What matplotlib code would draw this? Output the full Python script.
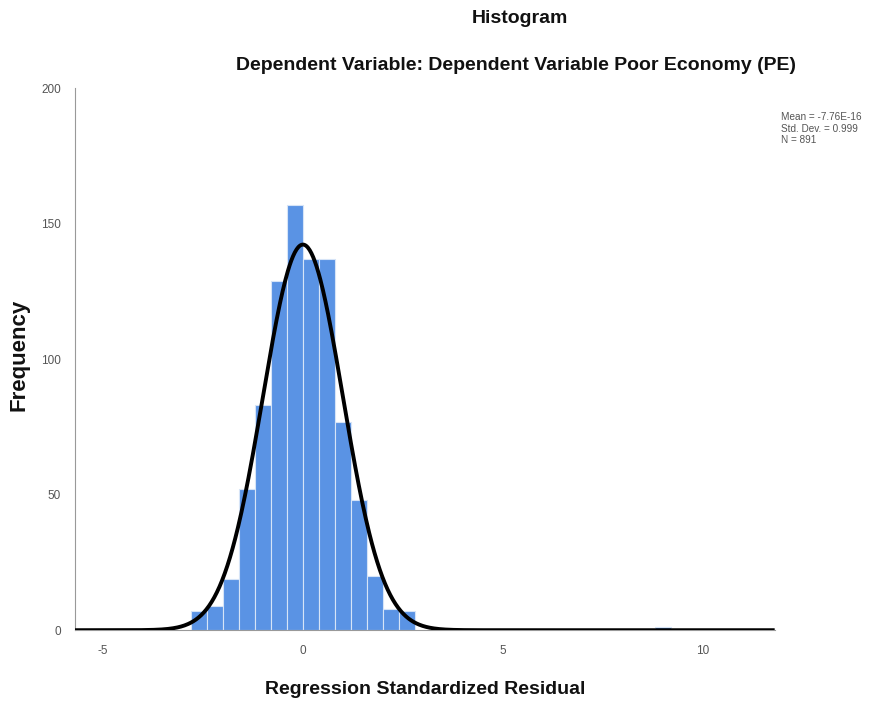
import matplotlib.pyplot as plt
import numpy as np

plt.rcParams['font.family'] = ['Liberation Sans', 'DejaVu Sans']
plt.rcParams['axes.unicode_minus'] = False

# residual histogram (bin width 0.4)
bin_edges = [-2.8, -2.4, -2.0, -1.6, -1.2, -0.8, -0.4, 0.0, 0.4, 0.8, 1.2, 1.6, 2.0, 2.4, 2.8]
counts = [7, 9, 19, 52, 83, 129, 157, 137, 137, 77, 48, 20, 8, 7]
outlier_edges = [8.8, 9.2]
outlier_counts = [1]

mean = -7.76e-16
std = 0.999
n = 891
bin_width = 0.4

fig = plt.figure(figsize=(8.89, 7.01), dpi=100)
ax = fig.add_axes([0.0844, 0.101, 0.787, 0.773])

ax.bar(bin_edges[:-1], counts, width=np.diff(bin_edges), align='edge',
       color='#5a93e4', edgecolor='#d6e4f7', linewidth=0.8, zorder=2)
ax.bar(outlier_edges[:-1], outlier_counts, width=np.diff(outlier_edges), align='edge',
       color='#5a93e4', edgecolor='#d6e4f7', linewidth=0.8, zorder=2)

# normal curve scaled to counts
xs = np.linspace(-5.7, 11.8, 800)
ys = n * bin_width / (std * np.sqrt(2 * np.pi)) * np.exp(-0.5 * ((xs - mean) / std) ** 2)
ax.plot(xs, ys, color='black', linewidth=2.8, zorder=3, solid_capstyle='butt')

ax.set_xlim(-5.7, 11.8)
ax.set_ylim(0, 200)
ax.set_xticks([-5, 0, 5, 10])
ax.set_yticks([0, 50, 100, 150, 200])
ax.tick_params(length=0, labelsize=8.5, colors='#555555', pad=10)
ax.tick_params(axis='x', pad=11)

for s in ['top', 'right']:
    ax.spines[s].set_visible(False)
ax.spines['left'].set_color('#999999')
ax.spines['bottom'].set_color('#999999')
ax.spines['left'].set_linewidth(0.8)

fig.text(0.021, 0.494, 'Frequency', rotation=90, ha='center', va='center',
         fontsize=16, fontweight='bold', color='#111111')
fig.text(0.478, 0.016, 'Regression Standardized Residual', ha='center', va='center',
         fontsize=14, fontweight='bold', color='#111111')

fig.text(0.585, 0.974, 'Histogram', ha='center', va='center', fontsize=14,
         fontweight='bold', color='#111111')
fig.text(0.58, 0.907, 'Dependent Variable: Dependent Variable Poor Economy (PE)',
         ha='center', va='center', fontsize=14, fontweight='bold', color='#111111')

fig.text(0.879, 0.84, 'Mean = -7.76E-16\nStd. Dev. = 0.999\nN = 891',
         ha='left', va='top', fontsize=7.2, color='#555555', linespacing=1.2)

fig.savefig('out.png', dpi=100)
